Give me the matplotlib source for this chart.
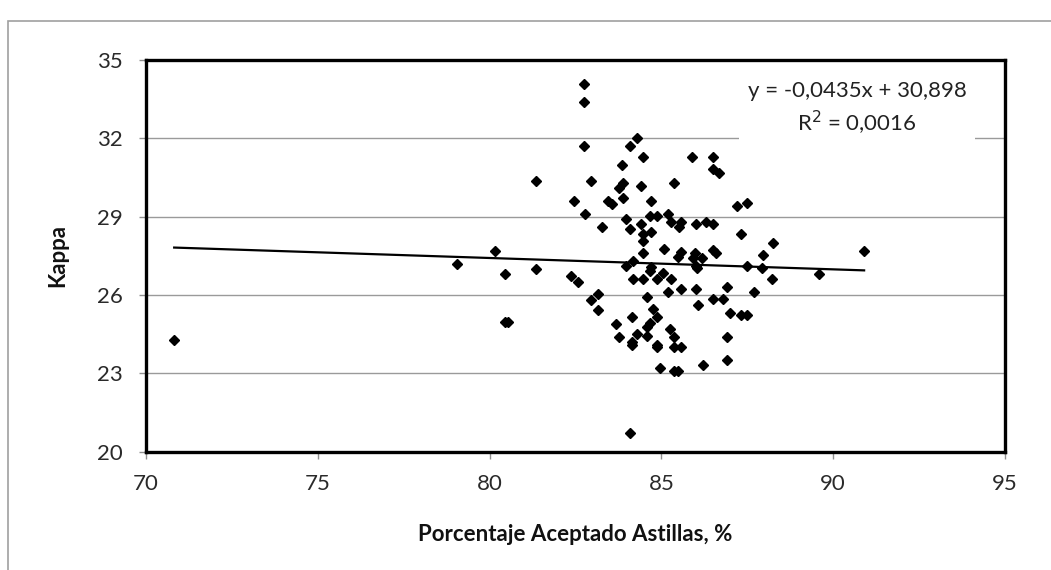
import numpy as np
import matplotlib
matplotlib.use("Agg")
import matplotlib.pyplot as plt
from matplotlib.patches import Rectangle

# porcentaje aceptado astillas (%) vs kappa
aceptado = np.array([
    70.82, 79.05, 80.16, 80.46, 80.46, 80.53, 81.35, 81.35, 82.37, 82.57,
    82.47, 82.76, 82.76, 82.76, 82.78, 82.96, 82.96, 83.15, 83.15, 83.28,
    83.44, 83.57, 83.67, 83.76, 83.78, 83.88, 83.86, 83.88, 83.98, 83.98,
    84.10, 84.29, 84.46, 84.40, 84.10, 84.40, 84.46, 84.46, 84.46, 84.17,
    84.69, 84.68, 84.69, 84.17, 84.46, 84.58, 84.15, 84.29, 84.15, 84.15,
    84.10, 84.71, 84.66, 84.87, 84.88, 84.75, 84.87, 84.66, 84.58, 84.58,
    84.87, 84.87, 84.97, 85.07, 85.05, 85.19, 85.18, 85.29, 85.37, 85.27,
    85.26, 85.36, 85.36, 85.36, 85.49, 85.58, 85.51, 85.58, 85.58, 85.49,
    85.58, 85.89, 85.97, 85.92, 86.02, 86.05, 86.17, 86.00, 86.07, 86.20,
    86.02, 86.29, 86.49, 86.49, 86.49, 86.68, 86.51, 86.60, 86.51, 86.80,
    86.90, 86.90, 86.90, 87.01, 87.31, 87.50, 87.19, 87.50, 87.31, 87.50,
    87.69, 87.96, 87.92, 88.26, 88.21, 89.59, 90.90,
])
kappa = np.array([
    24.28, 27.19, 27.69, 26.80, 24.98, 24.98, 30.38, 26.99, 26.71, 26.51,
    29.59, 34.08, 33.39, 31.71, 29.10, 30.38, 25.81, 26.02, 25.42, 28.62,
    29.60, 29.48, 24.89, 24.40, 30.09, 30.28, 30.97, 29.73, 28.91, 27.12,
    31.71, 32.01, 31.27, 30.19, 28.52, 28.72, 28.32, 28.05, 27.60, 27.30,
    29.60, 29.04, 28.41, 26.61, 26.61, 25.91, 25.15, 24.51, 24.21, 24.10,
    20.70, 27.08, 26.92, 26.61, 29.04, 25.45, 25.15, 24.94, 24.79, 24.43,
    24.08, 24.00, 23.19, 27.76, 26.83, 26.10, 29.10, 28.81, 30.28, 26.61,
    24.69, 24.40, 24.00, 23.10, 23.10, 24.00, 28.62, 28.81, 27.66, 27.47,
    26.23, 31.27, 27.60, 27.41, 27.12, 27.05, 27.41, 26.23, 25.62, 23.32,
    28.72, 28.81, 28.72, 31.27, 30.81, 30.66, 27.72, 27.60, 25.85, 25.85,
    26.32, 24.40, 23.51, 25.32, 25.23, 25.23, 29.42, 29.51, 28.34, 27.11,
    26.13, 27.53, 27.02, 27.98, 26.60, 26.80, 27.68,
])

# linear trend line as printed on the chart
pendiente = -0.0435
intercepto = 30.898
r2 = 0.0016

x_ticks = [70, 75, 80, 85, 90, 95]
y_ticks = [20, 23, 26, 29, 32, 35]

plt.rcParams['font.family'] = ['Lato', 'DejaVu Sans']

fig = plt.figure(figsize=(10.51, 5.70), dpi=100)
# outer chart-area border
fig.patches.append(Rectangle((8 / 1051, -0.1), 1.2, 1 - 21 / 570 + 0.1,
                             transform=fig.transFigure, fill=False,
                             edgecolor='#a0a0a0', linewidth=1.2))

ax = fig.add_axes([146 / 1051, 1 - 451.7 / 570,
                   (1005 - 146) / 1051, (451.7 - 60) / 570])

# gridlines
ax.set_yticks(y_ticks)
ax.set_xticks(x_ticks)
ax.yaxis.grid(True, color='#9a9a9a', linewidth=1.0)
ax.set_axisbelow(True)

ax.plot(aceptado, kappa, linestyle='none', marker='D', markersize=5.3,
        color='black', zorder=3)

xl = np.array([aceptado.min(), aceptado.max()])
ax.plot(xl, pendiente * xl + intercepto, color='black', linewidth=1.6, zorder=2)

ax.set_xlim(70, 95)
ax.set_ylim(20, 35)

for s in ax.spines.values():
    s.set_linewidth(2.4)
    s.set_color('black')

ax.tick_params(axis='both', direction='out', length=5, width=1,
               color='#909090', labelsize=16, labelcolor='#2a2a2a')
ax.tick_params(axis='x', pad=11)
ax.tick_params(axis='y', pad=12)

ax.set_xlabel('Porcentaje Aceptado Astillas, %', fontsize=16,
              fontweight='bold', color='#111111')
ax.xaxis.set_label_coords(0.5, -0.185)
ax.set_ylabel('Kappa', fontsize=16, fontweight='bold', color='#111111')
ax.yaxis.set_label_coords(-0.0905, 0.5)

eq = f'y = {pendiente:.4f}x + {intercepto:.3f}'.replace('.', ',')
r2txt = f'R$^2$ = {r2:.4f}'.replace('.', ',')
ax.text(85 + (857 - 661.7) / 34.27, 35 - (109 - 60) / 26.11, eq + '\n' + r2txt,
        ha='center', va='center', fontsize=16, color='#222222',
        linespacing=1.4, zorder=4,
        bbox=dict(facecolor='white', edgecolor='none', pad=6))

fig.savefig('out.png', dpi=100)
